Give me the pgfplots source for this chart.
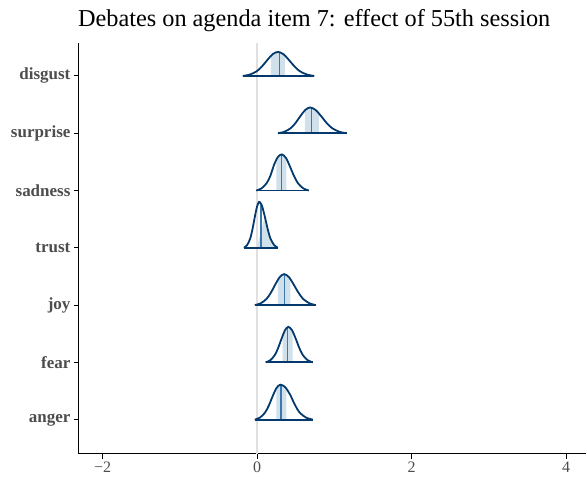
\documentclass[border=0pt]{standalone}
\usepackage{pgfplots}
\pgfplotsset{compat=1.18}
\usepgfplotslibrary{fillbetween}
\usepackage{fontspec}
\setmainfont{Liberation Serif}
\definecolor{outl}{HTML}{03396C}
\definecolor{medc}{HTML}{3A78AE}
\definecolor{fillc}{HTML}{D1E1EC}
\definecolor{txt}{HTML}{4D4D4D}
\definecolor{zl}{HTML}{E0E0E0}
\begin{document}
\begin{tikzpicture}
\begin{axis}[
  at={(0,0)}, anchor=south west,
  scale only axis, width=508pt, height=411pt,
  xmin=-2.306, xmax=4.263, ymin=0.407, ymax=7.576,
  axis lines*=left,
  axis line style={black, line width=1.1pt},
  xtick={-2,0,2,4}, xticklabels={−2,0,2,4},
  ytick={1,2,3,4,5,6,7},
  yticklabels={anger,fear,joy,trust,sadness,surprise,disgust},
  tick align=outside, major tick length=5pt,
  tick style={black, line width=1.1pt},
  xticklabel style={font=\fontsize{16}{18}\selectfont, text=txt},
  yticklabel style={font=\fontsize{17}{20}\selectfont\bfseries, text=txt},
  clip=false,
]
\addplot[zl, line width=1.3pt] coordinates {(0,0.407) (0,7.576)};

% ---------- disgust ----------
\addplot[draw=none, name path=d7, smooth] coordinates {(-0.185,7) (-0.094,7.024) (-0.003,7.083) (0.065,7.169) (0.134,7.280) (0.202,7.380) (0.27,7.42) (0.341,7.380) (0.411,7.280) (0.482,7.169) (0.552,7.083) (0.646,7.024) (0.74,7)};
\addplot[draw=none, name path=b7] coordinates {(-0.185,7) (0.74,7)};
\addplot[fill=fillc, draw=none] fill between[of=d7 and b7, soft clip={domain=0.18:0.36}];
\addplot[medc, line width=1.1pt] coordinates {(0.285,7) (0.285,7.41)};
\addplot[outl, line width=1.8pt, smooth] coordinates {(-0.185,7) (-0.094,7.024) (-0.003,7.083) (0.065,7.169) (0.134,7.280) (0.202,7.380) (0.27,7.42) (0.341,7.380) (0.411,7.280) (0.482,7.169) (0.552,7.083) (0.646,7.024) (0.74,7)};
\addplot[outl, line width=1.8pt] coordinates {(-0.185,7) (0.74,7)};

% ---------- surprise ----------
\addplot[draw=none, name path=d6, smooth] coordinates {(0.270,6) (0.353,6.025) (0.436,6.089) (0.499,6.181) (0.561,6.300) (0.624,6.407) (0.686,6.45) (0.757,6.407) (0.828,6.300) (0.899,6.181) (0.970,6.089) (1.065,6.025) (1.160,6)};
\addplot[draw=none, name path=b6] coordinates {(0.27,6) (1.16,6)};
\addplot[fill=fillc, draw=none] fill between[of=d6 and b6, soft clip={domain=0.62:0.80}];
\addplot[medc, line width=1.1pt] coordinates {(0.70,6) (0.70,6.44)};
\addplot[outl, line width=1.8pt, smooth] coordinates {(0.270,6) (0.353,6.025) (0.436,6.089) (0.499,6.181) (0.561,6.300) (0.624,6.407) (0.686,6.45) (0.757,6.407) (0.828,6.300) (0.899,6.181) (0.970,6.089) (1.065,6.025) (1.160,6)};
\addplot[outl, line width=1.8pt] coordinates {(0.27,6) (1.16,6)};

% ---------- sadness ----------
\addplot[draw=none, name path=d5, smooth] coordinates {(-0.01,5) (0.056,5.035) (0.122,5.125) (0.171,5.253) (0.221,5.454) (0.270,5.586) (0.32,5.63) (0.373,5.570) (0.425,5.420) (0.478,5.253) (0.53,5.125) (0.60,5.035) (0.67,5)};
\addplot[draw=none, name path=b5] coordinates {(-0.01,5) (0.67,5)};
\addplot[fill=fillc, draw=none] fill between[of=d5 and b5, soft clip={domain=0.25:0.38}];
\addplot[medc, line width=1.1pt] coordinates {(0.32,5) (0.32,5.62)};
\addplot[outl, line width=1.8pt, smooth] coordinates {(-0.01,5) (0.056,5.035) (0.122,5.125) (0.171,5.253) (0.221,5.454) (0.270,5.586) (0.32,5.63) (0.373,5.570) (0.425,5.420) (0.478,5.253) (0.53,5.125) (0.60,5.035) (0.67,5)};
\addplot[outl, line width=1.8pt] coordinates {(-0.01,5) (0.67,5)};

% ---------- trust ----------
\addplot[draw=none, name path=d4, smooth] coordinates {(-0.17,4) (-0.13,4.045) (-0.09,4.158) (-0.06,4.322) (-0.03,4.534) (0.0,4.723) (0.025,4.80) (0.045,4.78) (0.066,4.723) (0.102,4.534) (0.138,4.322) (0.174,4.158) (0.222,4.045) (0.27,4)};
\addplot[draw=none, name path=b4] coordinates {(-0.17,4) (0.27,4)};
\addplot[fill=fillc, draw=none] fill between[of=d4 and b4, soft clip={domain=-0.004:0.10}];
\addplot[medc, line width=1.1pt] coordinates {(0.05,4) (0.05,4.77)};
\addplot[outl, line width=1.8pt, smooth] coordinates {(-0.17,4) (-0.13,4.045) (-0.09,4.158) (-0.06,4.322) (-0.03,4.534) (0.0,4.723) (0.025,4.80) (0.045,4.78) (0.066,4.723) (0.102,4.534) (0.138,4.322) (0.174,4.158) (0.222,4.045) (0.27,4)};
\addplot[outl, line width=1.8pt] coordinates {(-0.17,4) (0.27,4)};

% ---------- joy ----------
\addplot[draw=none, name path=d3, smooth] coordinates {(-0.03,3) (0.046,3.030) (0.122,3.107) (0.179,3.217) (0.236,3.360) (0.293,3.488) (0.35,3.54) (0.412,3.488) (0.473,3.360) (0.535,3.217) (0.596,3.107) (0.678,3.030) (0.76,3)};
\addplot[draw=none, name path=b3] coordinates {(-0.03,3) (0.76,3)};
\addplot[fill=fillc, draw=none] fill between[of=d3 and b3, soft clip={domain=0.27:0.43}];
\addplot[medc, line width=1.1pt] coordinates {(0.35,3) (0.35,3.53)};
\addplot[outl, line width=1.8pt, smooth] coordinates {(-0.03,3) (0.046,3.030) (0.122,3.107) (0.179,3.217) (0.236,3.360) (0.293,3.488) (0.35,3.54) (0.412,3.488) (0.473,3.360) (0.535,3.217) (0.596,3.107) (0.678,3.030) (0.76,3)};
\addplot[outl, line width=1.8pt] coordinates {(-0.03,3) (0.76,3)};

% ---------- fear ----------
\addplot[draw=none, name path=d2, smooth] coordinates {(0.11,2) (0.169,2.035) (0.228,2.123) (0.272,2.249) (0.317,2.414) (0.361,2.560) (0.405,2.62) (0.452,2.560) (0.50,2.414) (0.547,2.249) (0.594,2.123) (0.657,2.035) (0.72,2)};
\addplot[draw=none, name path=b2] coordinates {(0.11,2) (0.72,2)};
\addplot[fill=fillc, draw=none] fill between[of=d2 and b2, soft clip={domain=0.33:0.46}];
\addplot[medc, line width=1.1pt] coordinates {(0.39,2) (0.39,2.60)};
\addplot[outl, line width=1.8pt, smooth] coordinates {(0.11,2) (0.169,2.035) (0.228,2.123) (0.272,2.249) (0.317,2.414) (0.361,2.560) (0.405,2.62) (0.452,2.560) (0.50,2.414) (0.547,2.249) (0.594,2.123) (0.657,2.035) (0.72,2)};
\addplot[outl, line width=1.8pt] coordinates {(0.11,2) (0.72,2)};

% ---------- anger ----------
\addplot[draw=none, name path=d1, smooth] coordinates {(-0.03,1) (0.036,1.034) (0.102,1.121) (0.152,1.245) (0.201,1.407) (0.251,1.551) (0.30,1.61) (0.363,1.567) (0.426,1.439) (0.489,1.260) (0.552,1.121) (0.636,1.034) (0.72,1)};
\addplot[draw=none, name path=b1] coordinates {(-0.03,1) (0.72,1)};
\addplot[fill=fillc, draw=none] fill between[of=d1 and b1, soft clip={domain=0.25:0.38}];
\addplot[medc, line width=1.1pt] coordinates {(0.31,1) (0.31,1.60)};
\addplot[outl, line width=1.8pt, smooth] coordinates {(-0.03,1) (0.036,1.034) (0.102,1.121) (0.152,1.245) (0.201,1.407) (0.251,1.551) (0.30,1.61) (0.363,1.567) (0.426,1.439) (0.489,1.260) (0.552,1.121) (0.636,1.034) (0.72,1)};
\addplot[outl, line width=1.8pt] coordinates {(-0.03,1) (0.72,1)};
\end{axis}
\node[anchor=base, font=\fontsize{24.3}{28}\selectfont] at (235.5pt,427pt) {Debates on agenda item 7: effect of 55th session};
\path (-79pt,-25pt) rectangle (508pt,454pt);
\end{tikzpicture}
\end{document}
